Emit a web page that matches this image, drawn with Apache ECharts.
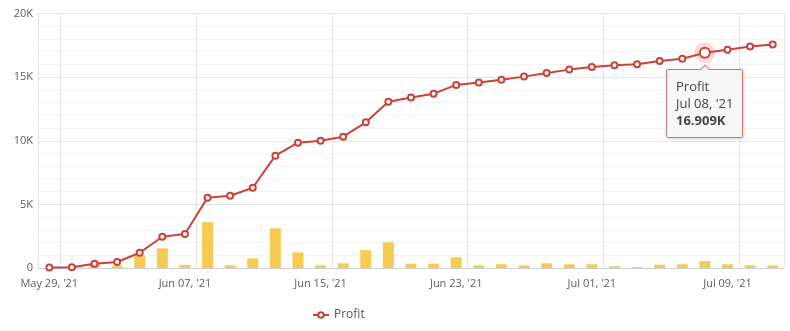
<!DOCTYPE html>
<html>
<head>
<meta charset="utf-8">
<style>
  html, body { margin: 0; padding: 0; background: #fff; }
  #chart { width: 790px; height: 331px; }
</style>
<script src="https://cdn.jsdelivr.net/npm/echarts@6/dist/echarts.min.js"></script>
</head>
<body>
<div id="chart"></div>
<script>
// Trading days shown on the category axis
const categories = [
  "May 29, '21", "May 31, '21", "Jun 01, '21", "Jun 02, '21", "Jun 03, '21", "Jun 04, '21",
  "Jun 07, '21", "Jun 08, '21", "Jun 09, '21", "Jun 10, '21", "Jun 11, '21", "Jun 14, '21",
  "Jun 15, '21", "Jun 16, '21", "Jun 17, '21", "Jun 18, '21", "Jun 21, '21", "Jun 22, '21",
  "Jun 23, '21", "Jun 24, '21", "Jun 25, '21", "Jun 28, '21", "Jun 29, '21", "Jun 30, '21",
  "Jul 01, '21", "Jul 02, '21", "Jul 05, '21", "Jul 06, '21", "Jul 07, '21", "Jul 08, '21",
  "Jul 09, '21", "Jul 12, '21", "Jul 13, '21"
];

// Cumulative profit
const profit = [
  30, 60, 340, 470, 1200, 2460, 2670, 5530, 5680, 6310, 8830,
  9850, 10000, 10320, 11450, 13070, 13400, 13700, 14390, 14570, 14800,
  15040, 15330, 15590, 15800, 15930, 16010, 16270, 16450, 16909, 17160,
  17400, 17560
];

// Daily amount
const daily = [
  0, 0, 370, 150, 940, 1550, 240, 3600, 210, 760, 3120,
  1230, 210, 370, 1410, 2020, 340, 340, 840, 210, 290,
  210, 370, 290, 290, 130, 80, 260, 290, 550, 290,
  210, 210
];

// Y axis ticks
const yTicks = [0, 5000, 10000, 15000, 20000];

const focusIndex = 29;
const lineColor = '#c9433a';
const barColor = '#f6cb52';
const fontFamily = '"Open Sans", "DejaVu Sans", sans-serif';

function fmtK(v) {
  return v === 0 ? '0' : (v / 1000) + 'K';
}

const chart = echarts.init(document.getElementById('chart'), null, { renderer: 'canvas' });

chart.setOption({
  animation: false,
  textStyle: { fontFamily: fontFamily },
  grid: { left: 38, right: 6, top: 13.5, bottom: 63, containLabel: false },
  legend: {
    show: true,
    data: ['Profit'],
    left: 307,
    top: 304,
    itemWidth: 16,
    itemHeight: 7,
    itemGap: 6,
    textStyle: { color: '#555', fontSize: 12, fontFamily: fontFamily },
    selectedMode: false
  },
  tooltip: {
    trigger: 'item',
    position: 'bottom',
    alwaysShowContent: true,
    backgroundColor: 'rgba(247,247,247,0.96)',
    borderColor: 'rgba(205,95,85,0.85)',
    borderWidth: 1,
    padding: [8, 9],
    textStyle: { color: '#444', fontSize: 13, fontFamily: fontFamily, lineHeight: 17 },
    extraCssText: 'box-shadow: 1px 1px 3px rgba(0,0,0,0.18); border-radius: 2px;',
    formatter: function (p) {
      return 'Profit<br/>' + categories[p.dataIndex] +
        '<br/><b>' + (p.value / 1000).toFixed(3) + 'K</b>';
    }
  },
  xAxis: {
    type: 'category',
    data: categories,
    boundaryGap: true,
    axisLine: { show: true, lineStyle: { color: '#c9d1df', width: 1 } },
    axisTick: { show: false },
    axisLabel: {
      interval: 5,
      color: '#5c5c5c',
      fontSize: 11,
      margin: 10,
      fontFamily: fontFamily
    },
    splitLine: {
      show: true,
      interval: function (index) { return index % 6 === 1; },
      lineStyle: { color: '#e6e6e6', width: 1 }
    }
  },
  yAxis: {
    type: 'value',
    min: yTicks[0],
    max: yTicks[yTicks.length - 1],
    interval: yTicks[1] - yTicks[0],
    axisLine: { show: true, lineStyle: { color: '#e0e0e0' } },
    axisTick: { show: false },
    axisLabel: {
      color: '#5c5c5c',
      fontSize: 11,
      margin: 5,
      fontFamily: fontFamily,
      formatter: fmtK
    },
    splitLine: { show: true, lineStyle: { color: '#e6e6e6', width: 1 } },
    minorTick: { show: false, splitNumber: 5 },
    minorSplitLine: { show: true, lineStyle: { color: '#f4f4f4', width: 1 } }
  },
  series: [
    {
      name: 'Daily',
      type: 'bar',
      data: daily,
      barWidth: 11,
      itemStyle: { color: barColor },
      silent: true,
      z: 1
    },
    {
      name: 'Profit',
      type: 'line',
      data: profit.map(function (v, i) {
        return i === focusIndex
          ? { value: v, symbolSize: 10, itemStyle: { borderWidth: 2.5 } }
          : v;
      }),
      symbol: 'emptyCircle',
      symbolSize: 6,
      showAllSymbol: true,
      lineStyle: { color: lineColor, width: 2 },
      itemStyle: { color: lineColor, borderColor: lineColor, borderWidth: 1.5 },
      emphasis: { disabled: true },
      z: 3
    },
    {
      name: 'Halo',
      type: 'scatter',
      data: profit.map(function (v, i) { return i === focusIndex ? v : '-'; }),
      symbolSize: 21,
      itemStyle: { color: 'rgba(232,120,110,0.32)' },
      silent: true,
      tooltip: { show: false },
      z: 2
    }
  ]
});

chart.dispatchAction({ type: 'showTip', seriesIndex: 1, dataIndex: focusIndex });
</script>
</body>
</html>
